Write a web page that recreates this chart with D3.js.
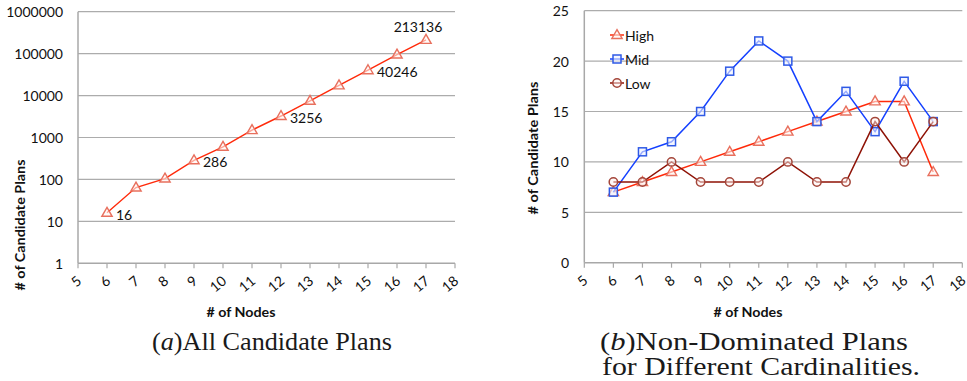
<!DOCTYPE html>
<html>
<head>
<meta charset="utf-8">
<script src="https://cdn.jsdelivr.net/npm/d3@7"></script>
<style>
  html, body { margin: 0; padding: 0; background: #fff; }
  svg { display: block; }
  .lbl { font-family: Lato, "Open Sans", sans-serif; fill: #111; }
  .ttl { font-family: Lato, "Open Sans", sans-serif; font-weight: bold; fill: #111; }
  .cap { font-family: "Liberation Serif", "DejaVu Serif", serif; fill: #1a1a1a; }
</style>
</head>
<body>
<svg id="chart" width="967" height="381"></svg>
<script>
// Node counts on the x axis
const nodes = [6, 7, 8, 9, 10, 11, 12, 13, 14, 15, 16, 17];
const xTicks = [5, 6, 7, 8, 9, 10, 11, 12, 13, 14, 15, 16, 17, 18];

// (a) all candidate plans (log scale)
const allPlans = [16, 64, 105, 286, 600, 1500, 3256, 7500, 17500, 40246, 95000, 213136];
const allTicks = [1, 10, 100, 1000, 10000, 100000, 1000000];
const labelledAll = [16, 286, 3256, 40246, 213136];

// (b) non-dominated plans by cardinality
const highPlans = [7, 8, 9, 10, 11, 12, 13, 14, 15, 16, 16, 9];
const midPlans  = [7, 11, 12, 15, 19, 22, 20, 14, 17, 13, 18, 14];
const lowPlans  = [8, 8, 10, 8, 8, 8, 10, 8, 8, 14, 10, 14];
const ndTicks = [0, 5, 10, 15, 20, 25];
const seriesNames = ["High", "Mid", "Low"];

const svg = d3.select("#chart");
const gridColor = "#acacac";
const axisColor = "#a8a8a8";

function xAxisWithLabels(g, x, yBase) {
  g.append("line").attr("x1", x(5)).attr("x2", x(18))
    .attr("y1", yBase).attr("y2", yBase)
    .attr("stroke", axisColor).attr("stroke-width", 1.5);
  xTicks.forEach(t => {
    g.append("line").attr("x1", x(t)).attr("x2", x(t))
      .attr("y1", yBase).attr("y2", yBase + 5)
      .attr("stroke", axisColor).attr("stroke-width", 1.2);
    // rotated labels end just below their tick
    g.append("text").attr("class", "lbl")
      .attr("transform", `translate(${x(t) + 1},${yBase + 15}) rotate(-40)`)
      .attr("text-anchor", "end").attr("dominant-baseline", "central")
      .attr("font-size", 14).text(t);
  });
}

function triangle(g, cx, cy) {
  g.append("path")
    .attr("d", d3.symbol(d3.symbolTriangle, 46)())
    .attr("transform", `translate(${cx},${cy + 0.5})`)
    .attr("fill", "#fff6f4").attr("fill-opacity", 0.6)
    .attr("stroke", "#e8705e").attr("stroke-width", 1.4);
}

/* ---------- (a) All Candidate Plans ---------- */
{
  const x = d3.scaleLinear([5, 18], [78, 455]);
  const y = d3.scaleLog([1, 1e6], [263.3, 11.7]);
  const g = svg.append("g");

  allTicks.forEach(t => {
    if (t > 1) {
      g.append("line").attr("x1", x(5)).attr("x2", x(18))
        .attr("y1", y(t)).attr("y2", y(t))
        .attr("stroke", gridColor).attr("stroke-width", 1.2);
    }
    g.append("text").attr("class", "lbl")
      .attr("x", 63).attr("y", y(t)).attr("text-anchor", "end")
      .attr("dominant-baseline", "central").attr("font-size", 14)
      .text(d3.format("d")(t));
  });
  g.append("line").attr("x1", x(5)).attr("x2", x(5))
    .attr("y1", y(1e6)).attr("y2", y(1))
    .attr("stroke", axisColor).attr("stroke-width", 1.5);
  xAxisWithLabels(g, x, y(1));

  const line = d3.line().x((d, i) => x(nodes[i])).y(d => y(d));
  g.append("path").datum(allPlans).attr("d", line)
    .attr("fill", "none").attr("stroke", "#ff2a0a").attr("stroke-width", 1.4);
  allPlans.forEach((v, i) => triangle(g, x(nodes[i]), y(v)));

  allPlans.forEach((v, i) => {
    if (!labelledAll.includes(v)) return;
    const t = g.append("text").attr("class", "lbl").attr("font-size", 14).text(v);
    if (i === allPlans.length - 1) {
      t.attr("x", x(nodes[i]) - 8).attr("y", y(v) - 13)
        .attr("text-anchor", "middle").attr("dominant-baseline", "central");
    } else {
      t.attr("x", x(nodes[i]) + 9).attr("y", y(v) + 1.5)
        .attr("dominant-baseline", "central");
    }
  });

  g.append("text").attr("class", "ttl").attr("font-size", 13.5)
    .attr("transform", "translate(20,225) rotate(-90)")
    .attr("text-anchor", "middle").attr("dominant-baseline", "central")
    .attr("textLength", 131).attr("lengthAdjust", "spacingAndGlyphs")
    .text("# of Candidate Plans");
  g.append("text").attr("class", "ttl").attr("font-size", 14)
    .attr("x", 241).attr("y", 311).attr("text-anchor", "middle")
    .attr("dominant-baseline", "central")
    .attr("textLength", 69).attr("lengthAdjust", "spacingAndGlyphs")
    .text("# of Nodes");

  const cap = g.append("text").attr("class", "cap").attr("font-size", 25)
    .attr("x", 152).attr("y", 350).attr("textLength", 240)
    .attr("lengthAdjust", "spacingAndGlyphs");
  cap.append("tspan").text("(");
  cap.append("tspan").attr("font-style", "italic").text("a");
  cap.append("tspan").text(")All Candidate Plans");
}

/* ---------- (b) Non-Dominated Plans ---------- */
{
  const x = d3.scaleLinear([5, 18], [584.3, 962.3]);
  const y = d3.scaleLinear([0, 25], [262.7, 10.7]);
  const g = svg.append("g");

  ndTicks.forEach(t => {
    if (t > 0) {
      g.append("line").attr("x1", x(5)).attr("x2", x(18))
        .attr("y1", y(t)).attr("y2", y(t))
        .attr("stroke", gridColor).attr("stroke-width", 1.2);
    }
    g.append("text").attr("class", "lbl")
      .attr("x", 569).attr("y", y(t)).attr("text-anchor", "end")
      .attr("dominant-baseline", "central").attr("font-size", 14).text(t);
  });
  g.append("line").attr("x1", x(5)).attr("x2", x(5))
    .attr("y1", y(25)).attr("y2", y(0))
    .attr("stroke", axisColor).attr("stroke-width", 1.5);
  xAxisWithLabels(g, x, y(0));

  const styles = {
    High: { line: "#ff2a0a", data: highPlans },
    Mid:  { line: "#1440ff", data: midPlans },
    Low:  { line: "#8e1206", data: lowPlans }
  };

  function marker(sel, name, cx, cy) {
    if (name === "High") {
      triangle(sel, cx, cy);
    } else if (name === "Mid") {
      sel.append("rect").attr("x", cx - 4).attr("y", cy - 4)
        .attr("width", 8).attr("height", 8)
        .attr("fill", "#eef2ff").attr("fill-opacity", 0.6)
        .attr("stroke", "#2f5ae6").attr("stroke-width", 1.5);
    } else {
      sel.append("circle").attr("cx", cx).attr("cy", cy).attr("r", 4.2)
        .attr("fill", "#fff4f2").attr("fill-opacity", 0.5)
        .attr("stroke", "#a4463a").attr("stroke-width", 1.5);
    }
  }

  const line = d3.line().x((d, i) => x(nodes[i])).y(d => y(d));
  seriesNames.forEach(name => {
    const s = styles[name];
    g.append("path").datum(s.data).attr("d", line)
      .attr("fill", "none").attr("stroke", s.line).attr("stroke-width", 1.5);
    s.data.forEach((v, i) => marker(g, name, x(nodes[i]), y(v)));
  });

  // legend
  seriesNames.forEach((name, k) => {
    const ly = 35 + k * 24;
    g.append("line").attr("x1", 610).attr("x2", 624).attr("y1", ly).attr("y2", ly)
      .attr("stroke", styles[name].line).attr("stroke-width", 1.5);
    marker(g, name, 617, ly);
    g.append("text").attr("class", "lbl").attr("font-size", 14)
      .attr("x", 625).attr("y", ly).attr("dominant-baseline", "central").text(name);
  });

  g.append("text").attr("class", "ttl").attr("font-size", 13.5)
    .attr("transform", "translate(533,148) rotate(-90)")
    .attr("text-anchor", "middle").attr("dominant-baseline", "central")
    .attr("textLength", 133).attr("lengthAdjust", "spacingAndGlyphs")
    .text("# of Candidate Plans");
  g.append("text").attr("class", "ttl").attr("font-size", 14)
    .attr("x", 748).attr("y", 311).attr("text-anchor", "middle")
    .attr("dominant-baseline", "central")
    .attr("textLength", 69).attr("lengthAdjust", "spacingAndGlyphs")
    .text("# of Nodes");

  const cap1 = g.append("text").attr("class", "cap").attr("font-size", 25)
    .attr("x", 600).attr("y", 350).attr("textLength", 308)
    .attr("lengthAdjust", "spacingAndGlyphs");
  cap1.append("tspan").text("(");
  cap1.append("tspan").attr("font-style", "italic").text("b");
  cap1.append("tspan").text(")Non-Dominated Plans");
  g.append("text").attr("class", "cap").attr("font-size", 25)
    .attr("x", 602).attr("y", 375).attr("textLength", 318)
    .attr("lengthAdjust", "spacingAndGlyphs")
    .text("for Different Cardinalities.");
}
</script>
</body>
</html>
